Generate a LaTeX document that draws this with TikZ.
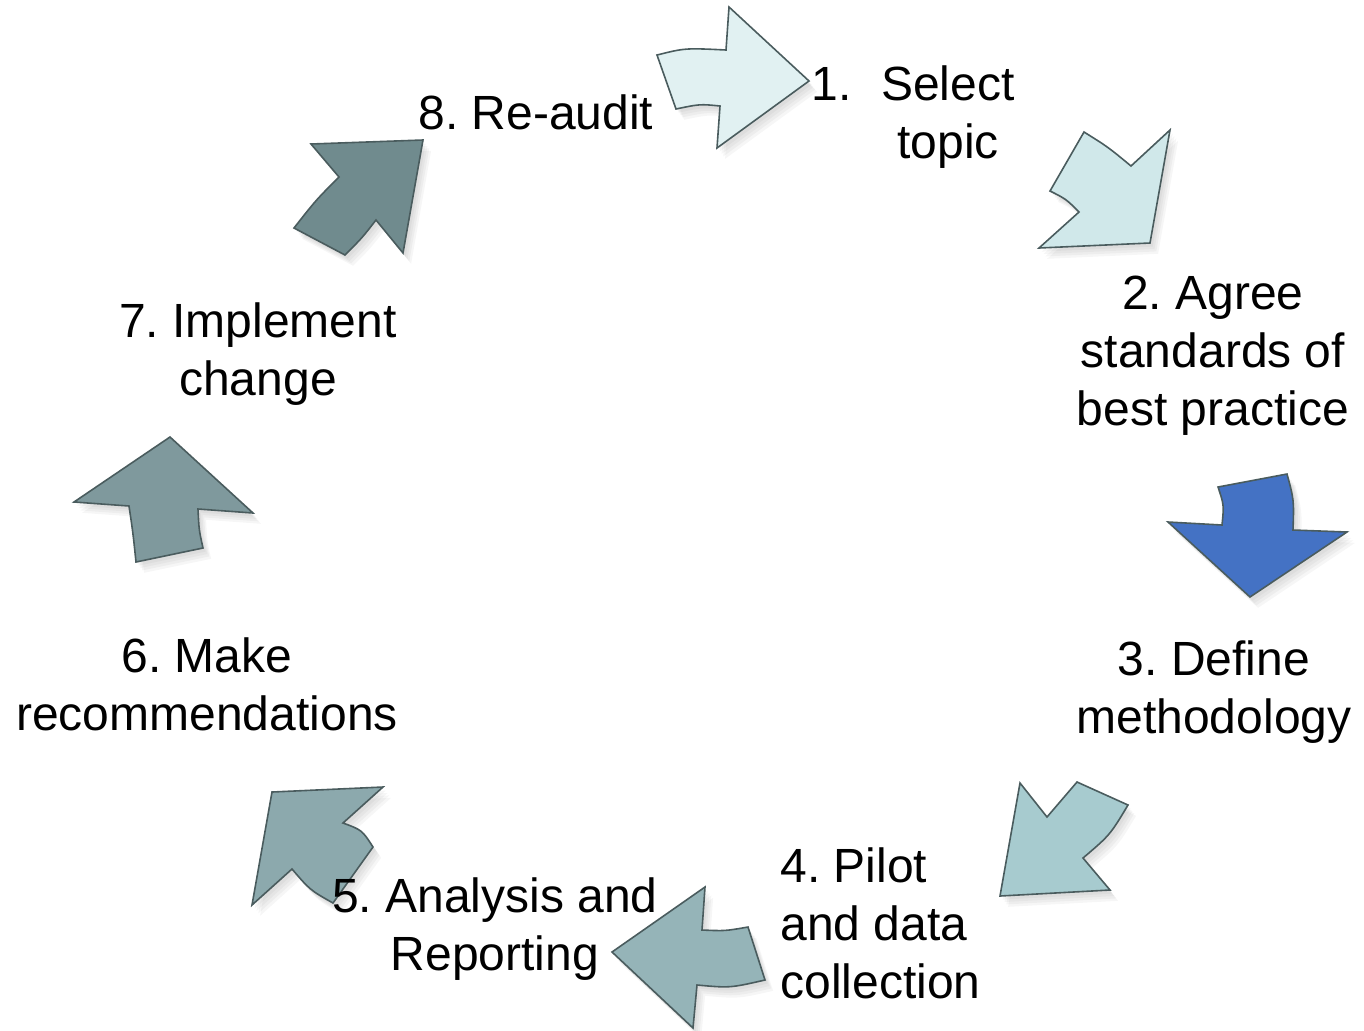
\documentclass[tikz,border=0pt]{standalone}
\usepackage{fontspec}
\setmainfont{Liberation Sans}
\frenchspacing
\definecolor{outl}{HTML}{4A5C5E}
\definecolor{cA}{HTML}{E1F1F2}
\definecolor{cB}{HTML}{D0E8EA}
\definecolor{cC}{HTML}{4472C4}
\definecolor{cD}{HTML}{A7CBCF}
\definecolor{cE}{HTML}{95B4B8}
\definecolor{cF}{HTML}{8CA9AD}
\definecolor{cG}{HTML}{7F999D}
\definecolor{cH}{HTML}{708B8E}
\newcommand\pathOne{(657,55) .. controls (685,48) .. (726,50) -- (729,7) -- (809,81) -- (717,148) -- (720,106) .. controls (700,104) .. (676,109) -- cycle}
\newcommand\pathTwo{(1084,132) .. controls (1108,147) .. (1131,166) -- (1170,130) -- (1150,243) -- (1039,248) -- (1079,212) .. controls (1066,199) .. (1050,191) -- cycle}
\newcommand\pathThree{(1218,487) .. controls (1224,505) .. (1222,525) -- (1168,522) -- (1250,597) -- (1347,532) -- (1293,530) .. controls (1294,500) .. (1287,474) -- cycle}
\newcommand\pathFour{(1020,783) -- (1047,817) -- (1077,782) -- (1128,805) .. controls (1110,835) .. (1083,858) -- (1110,890) -- (1000,896) -- cycle}
\newcommand\pathFive{(705,887) -- (702,930) .. controls (725,931) .. (748,927) -- (765,980) .. controls (730,988) .. (697,985) -- (693,1028) -- (612,952) -- cycle}
\newcommand\pathSix{(272,792) -- (383,787) -- (343,823) .. controls (362,830) .. (373,847) -- (333,903) .. controls (310,890) .. (292,869) -- (252,905) -- cycle}
\newcommand\pathSeven{(170,437) -- (253,513) -- (198,509) .. controls (199,530) .. (203,548) -- (136,562) .. controls (133,533) .. (129,506) -- (74,502) -- cycle}
\newcommand\pathEight{(311,144) -- (423,140) -- (403,253) -- (376,220) .. controls (362,238) .. (345,255) -- (294,228) .. controls (316,200) .. (339,177) -- cycle}
\tikzset{
  arw/.style={draw=outl, line width=0.8pt, line join=miter},
  shd/.style={fill=black, fill opacity=0.035},
  lbl/.style={font=\fontsize{24}{29}\selectfont, inner sep=0pt, align=center},
}
\newcommand\shapeWithShadow[2]{%
  \foreach \dd in {3,5,7,9} {\fill[shd, xshift=\dd*0.45pt, yshift=-\dd*0.6pt] #1;}
  \fill[arw, fill=#2] #1;}
\begin{document}
\begin{tikzpicture}[x=0.5pt,y=-0.5pt]
\useasboundingbox (0,0) rectangle (1364,1030);
% arrows
\shapeWithShadow{\pathOne}{cA}
\shapeWithShadow{\pathTwo}{cB}
\shapeWithShadow{\pathThree}{cC}
\shapeWithShadow{\pathFour}{cD}
\shapeWithShadow{\pathFive}{cE}
\shapeWithShadow{\pathSix}{cF}
\shapeWithShadow{\pathSeven}{cG}
\shapeWithShadow{\pathEight}{cH}
% labels
\node[lbl] (s8) at (536,112.5) {8. Re-audit};
\node[lbl] (s1) at (948,117.5) {\llap{1.\hspace{0.62em}}Select\\topic};
\node[lbl] (s2) at (1213,355.5) {2. Agree\\standards of\\best practice};
\node[lbl] (s3) at (1214,692.5) {3. Define\\methodology};
\node[lbl, align=left, anchor=north west] (s4) at (780,847) {4. Pilot\\and data\\collection};
\node[lbl] (s5) at (495,929.5) {5. Analysis and\\Reporting};
\node[lbl] (s6) at (207,684.5) {6. Make\\recommendations};
\node[lbl] (s7) at (258,354.5) {7. Implement\\change};
\end{tikzpicture}
\end{document}
